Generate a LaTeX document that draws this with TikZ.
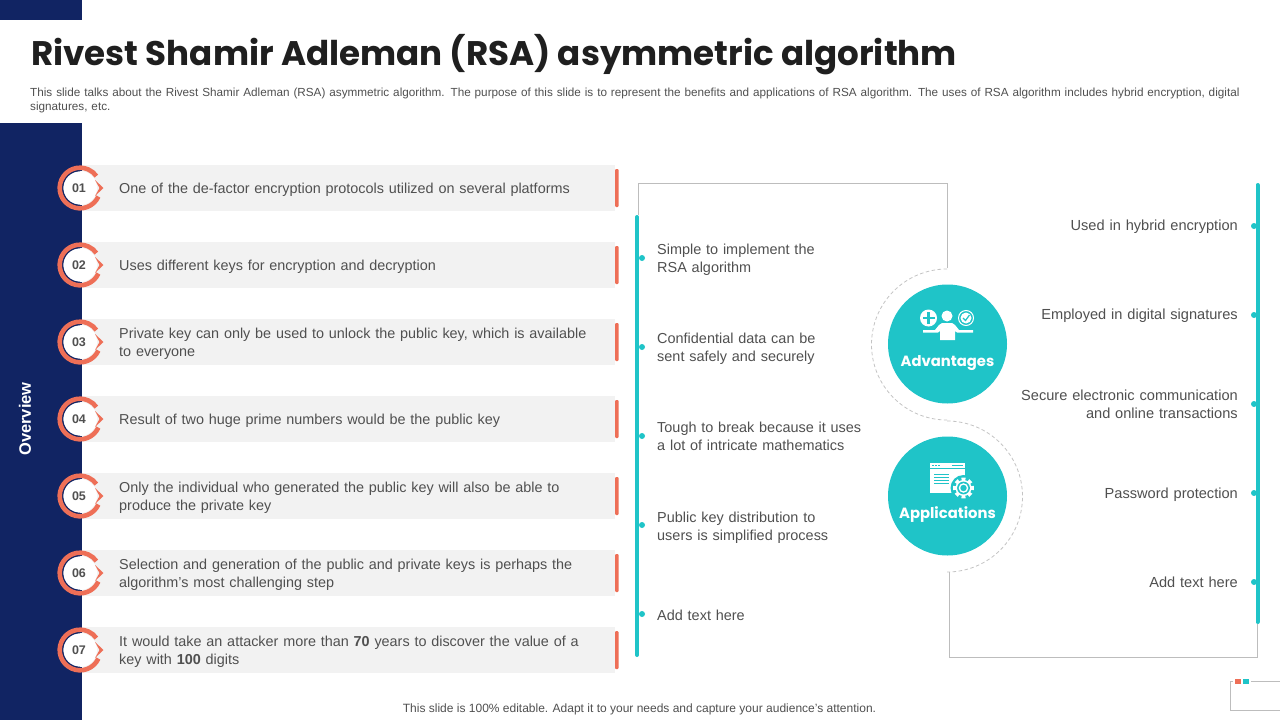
\documentclass[tikz,border=0pt]{standalone}
\usepackage{fontspec}
\setmainfont{Liberation Sans}
\newfontfamily\titlefont{Poppins}
\usetikzlibrary{calc}
\definecolor{navy}{HTML}{112463}
\definecolor{teal}{HTML}{1FC4C8}
\definecolor{coral}{HTML}{EE6F57}
\definecolor{barbg}{HTML}{F2F2F2}
\definecolor{ink}{HTML}{505050}
\definecolor{frameg}{HTML}{BDBDBD}
\definecolor{dashg}{HTML}{C4C4C4}
\tikzset{
  x=1pt,y=-1pt,
  struts/.style={execute at begin node=\strut,execute at end node=\strut},
  rowtext/.style={font=\fontsize{14.4}{18}\selectfont,text=ink,inner sep=0pt,align=left,anchor=west,text width=490pt,struts},
  midtext/.style={font=\fontsize{14.45}{18}\selectfont,text=ink,inner sep=0pt,align=left,anchor=west,text width=220pt,struts},
  bodyr/.style={font=\fontsize{14.6}{18}\selectfont,text=ink,inner sep=0pt,align=right,anchor=east,text width=300pt,struts},
  numtext/.style={font=\fontsize{12.5}{14}\selectfont\bfseries,text=ink,inner sep=0pt},
  dot/.style={circle,fill=teal,minimum size=6pt,inner sep=0pt},
  tealline/.style={teal,line width=4pt,line cap=round},
  frameline/.style={frameg,line width=0.9pt},
  dashline/.style={dashg,line width=0.8pt,dash pattern=on 3.5pt off 2.5pt},
  disc/.style={circle,fill=teal,minimum size=119pt,inner sep=0pt},
  disctext/.style={font=\titlefont\bfseries\fontsize{14.8}{18}\selectfont,text=white,inner sep=0pt},
}
\newcommand{\rowitem}[3]{%
  \fill[barbg] (82,#1-23) rectangle (615,#1+23);
  \fill[coral,rounded corners=1pt] (615,#1-19) rectangle (618.5,#1+19);
  \fill[white] (80,#1) circle (17);
  \draw[navy,line width=1.6pt] (80,#1-17.5) arc (270:90:17.5);
  \draw[coral,line width=4.6pt] ($(80,#1)+(25:20.3)$) arc (25:324:20.3);
  \fill[coral] (95,#1-8) -- (103.5,#1) -- (95,#1+8) -- (99.5,#1) -- cycle;
  \node[numtext] (n#2) at (79,#1) {0#2};
  \node[rowtext] (t#2) at (119,#1+1.5) {#3};
}
\begin{document}
\begin{tikzpicture}
\useasboundingbox (0,0) rectangle (1280,720);
\fill[white] (0,0) rectangle (1280,720);
\fill[navy] (0,0) rectangle (82,20);
\fill[navy] (0,123) rectangle (82,720);

\node[anchor=base west,inner sep=0pt,text=black!88,font=\titlefont\bfseries\fontsize{34.1}{40}\selectfont] (title) at (31,65) {Rivest Shamir Adleman (RSA) asymmetric algorithm};
\node[anchor=north west,inner sep=0pt,text=ink,text width=1245pt,align=left,font=\fontsize{11.73}{14}\selectfont] (intro) at (30,88) {This slide talks about the Rivest Shamir Adleman (RSA) asymmetric algorithm. The purpose of this slide is to represent the benefits and applications of RSA algorithm. The uses of RSA algorithm includes hybrid encryption, digital\\signatures, etc.};
\node[rotate=90,inner sep=0pt,text=white,font=\fontsize{16.5}{18}\selectfont\bfseries] (ov) at (25,419) {Overview};

\rowitem{188}{1}{One of the de-factor encryption protocols utilized on several platforms}
\rowitem{265}{2}{Uses different keys for encryption and decryption}
\rowitem{342}{3}{Private key can only be used to unlock the public key, which is available\\to everyone}
\rowitem{419}{4}{Result of two huge prime numbers would be the public key}
\rowitem{496}{5}{Only the individual who generated the public key will also be able to\\produce the private key}
\rowitem{573}{6}{Selection and generation of the public and private keys is perhaps the\\algorithm's most challenging step}
\rowitem{650}{7}{It would take an attacker more than \textbf{70} years to discover the value of a\\key with \textbf{100} digits}

% frames
\coordinate (fa) at (638,215); \coordinate (fb) at (638,183); \coordinate (fc) at (947,183); \coordinate (fd) at (947,268);
\draw[frameline] (fa) -- (fb) -- (fc) -- (fd);
\coordinate (ga) at (949,572); \coordinate (gb) at (949,657.5); \coordinate (gc) at (1257.5,657.5); \coordinate (gd) at (1257.5,624);
\draw[frameline] (ga) -- (gb) -- (gc) -- (gd);

% teal lines
\coordinate (la) at (637,217); \coordinate (lb) at (637,655);
\draw[tealline] (la) -- (lb);
\coordinate (ra) at (1257.5,185); \coordinate (rb) at (1257.5,622);
\draw[tealline] (ra) -- (rb);

\foreach \y/\i in {258/1,347/2,436/3,525/4,614/5}
  \node[dot] (ld\i) at (642,\y) {};
\foreach \y/\i in {226/1,315/2,404/3,493/4,582/5}
  \node[dot] (rd\i) at (1254,\y) {};

\node[midtext] (m1) at (657,259.5) {Simple to implement the\\RSA algorithm};
\node[midtext] (m2) at (657,348.5) {Confidential data can be\\sent safely and securely};
\node[midtext] (m3) at (657,437.5) {Tough to break because it uses\\a lot of intricate mathematics};
\node[midtext] (m4) at (657,527.5) {Public key distribution to\\users is simplified process};
\node[midtext] (m5) at (657,616.5) {Add text here};

\node[bodyr] (r1) at (1238,226.5) {Used in hybrid encryption};
\node[bodyr] (r2) at (1238,315.5) {Employed in digital signatures};
\node[bodyr] (r3) at (1238,405.5) {Secure electronic communication\\and online transactions};
\node[bodyr] (r4) at (1238,494.5) {Password protection};
\node[bodyr] (r5) at (1238,583.5) {Add text here};

% dashed arcs
\draw[dashline] (947,269) arc (270:90:75.5);
\draw[dashline] (947,421) arc (-90:90:75.5);

% discs
\node[disc] (adv) at (947.5,344) {};
\node[disc] (app) at (947.5,496) {};
\node[disctext] (advt) at (947.5,363) {Advantages};
\node[disctext] (appt) at (947.5,515) {Applications};

% advantages icon
\fill[white] (947,316) circle (5.5);
\fill[white] (942,323) -- (952,323) -- (955,325) -- (959,330) -- (973,330) -- (973,332.5) -- (957,332.5) -- (955,331) -- (955,340) -- (940,340) -- (940,331) -- (938,332.5) -- (923,332.5) -- (923,330) -- (935,330) -- (939,325) -- cycle;
\fill[white] (928.5,318) circle (8.5);
\fill[teal] (927.4,312) rectangle (929.6,324);
\fill[teal] (922.5,316.9) rectangle (934.5,319.1);
\draw[white,line width=1pt] (966,318) circle (7.5);
\fill[white] (966,318) circle (5.5);
\draw[teal,line width=1.2pt] (963,318) -- (965.5,320.5) -- (969.5,315);

% applications icon
\fill[white] (930,463) rectangle (965,493);
\fill[teal] (930,467.5) rectangle (965,468.2);
\foreach \xx in {932,935,938} \fill[teal] (\xx,464.5) rectangle (\xx+1.6,466);
\fill[teal] (952,464.8) rectangle (963,465.8);
\foreach \yy in {474,477,480,483} \fill[teal] (934,\yy) rectangle (949,\yy+0.9);
\fill[teal] (963.5,488) circle (13);
\foreach \a in {0,45,...,315}
  \fill[white] ($(963.5,488)+(\a-14:6)$) -- ($(963.5,488)+(\a-12:10.5)$) -- ($(963.5,488)+(\a+12:10.5)$) -- ($(963.5,488)+(\a+14:6)$) -- cycle;
\fill[white] (963.5,488) circle (8);
\fill[teal] (963.5,488) circle (6.4);
\fill[white] (963.5,488) circle (4.8);
\fill[teal] (963.5,488) circle (3.2);

% footer
\node[inner sep=0pt,text=ink,font=\fontsize{12}{14}\selectfont] (foot) at (639.5,709) {This slide is 100\% editable. Adapt it to your needs and capture your audience's attention.};
\coordinate (ca) at (1280,681.5); \coordinate (cb) at (1230.5,681.5); \coordinate (cc) at (1230.5,710); \coordinate (cd) at (1280,710);
\draw[frameg,line width=0.9pt] (ca) -- (cb) -- (cc) -- (cd);
\fill[white] (1233,678) rectangle (1251,685);
\fill[coral] (1235,678.8) rectangle (1240.5,684);
\fill[teal] (1243,678.8) rectangle (1249,684);
\end{tikzpicture}
\end{document}
